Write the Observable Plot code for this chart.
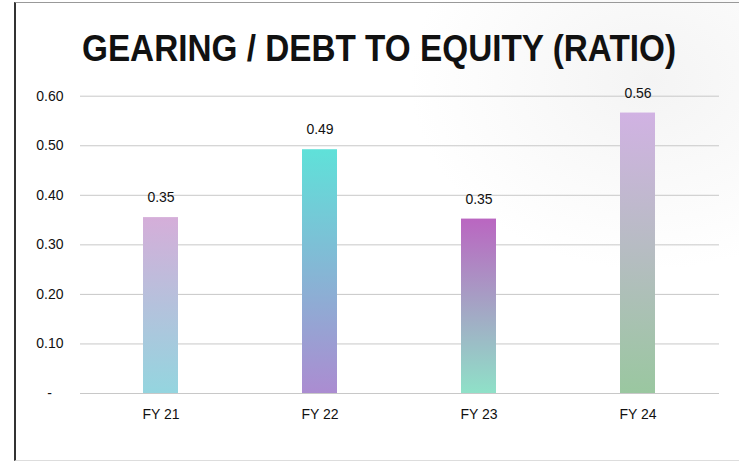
<!DOCTYPE html>
<html>
<head>
<meta charset="utf-8">
<script src="https://cdn.jsdelivr.net/npm/d3@7"></script>
<script src="https://cdn.jsdelivr.net/npm/@observablehq/plot@0.6"></script>
<style>
  html, body { margin: 0; padding: 0; background: #fff; }
  body { width: 739px; height: 463px; overflow: hidden; position: relative;
    font-family: "Liberation Sans", Arial, sans-serif; }
  #bg { position: absolute; left: 0; top: 0; width: 739px; height: 463px;
    background: radial-gradient(ellipse 240px 190px at 650px 80px, #f4f4f4 0%, #fafafa 55%, #ffffff 100%); }
  #frame { position: absolute; left: 14px; top: 2px; width: 723px; height: 457px;
    border-left: 2px solid #333; border-top: 1px solid #999; border-bottom: 1px solid #ddd; }
  #title { position: absolute; top: 29px; left: 82px; margin: 0; white-space: nowrap;
    font-family: "Liberation Sans", Arial, sans-serif; font-weight: bold; font-size: 36px;
    line-height: 40px; color: #111; transform-origin: 0 0; }
  #chart { position: absolute; left: 0; top: 80px; }
</style>
</head>
<body>
<div id="bg"></div>
<div id="frame"></div>
<h1 id="title">GEARING / DEBT TO EQUITY (RATIO)</h1>
<div id="chart"></div>
<script>
const categories = ["FY 21", "FY 22", "FY 23", "FY 24"];
const values = [0.355, 0.492, 0.352, 0.566];
const valueLabels = ["0.35", "0.49", "0.35", "0.56"];
const gradientTop = ["#d5aed9", "#5fe1d9", "#ba66c1", "#d1b2e3"];
const gradientBottom = ["#94d5df", "#ab8cd1", "#8fe1c8", "#9ac7a0"];
const yTicks = [0, 0.1, 0.2, 0.3, 0.4, 0.5, 0.6];
const yTickLabels = ["-", "0.10", "0.20", "0.30", "0.40", "0.50", "0.60"];

const data = categories.map((c, i) => ({
  cat: c, value: values[i], label: valueLabels[i], grad: `url(#grad${i})`
}));

// fit title width
const title = document.getElementById("title");
const targetW = 594;
const w = title.getBoundingClientRect().width;
title.style.transform = `scaleX(${targetW / w})`;

const plot = Plot.plot({
  width: 739,
  height: 383,
  marginLeft: 80,
  marginRight: 20,
  marginTop: 15.7,
  marginBottom: 70,
  style: { background: "transparent", fontFamily: "Liberation Sans, Arial, sans-serif", fontSize: "14px", color: "#111" },
  x: { domain: categories, paddingInner: 0.778, paddingOuter: 0.389, label: null },
  y: { domain: [0, 0.6], label: null },
  marks: [
    Plot.ruleY(yTicks, { stroke: "#c8c8c8", strokeWidth: 1 }),
    Plot.barY(data, { x: "cat", y: "value", fill: "grad" }),
    Plot.text(data, { x: "cat", y: "value", text: "label", dy: -20, fontSize: 14, fill: "#111" }),
    Plot.axisX({ tickSize: 0, tickPadding: 16, fontSize: 14, fill: "#111" }),
    Plot.axisY({ ticks: yTicks, tickSize: 0, tickPadding: 17,
      tickFormat: d => { const i = yTicks.indexOf(d); return i === 0 ? "-\u00a0\u00a0\u00a0" : yTickLabels[i]; },
      fontSize: 14, fill: "#111" })
  ]
});

const defs = d3.select(plot).insert("defs", ":first-child");
categories.forEach((c, i) => {
  const g = defs.append("linearGradient").attr("id", `grad${i}`)
    .attr("x1", 0).attr("y1", 0).attr("x2", 0).attr("y2", 1);
  g.append("stop").attr("offset", "0%").attr("stop-color", gradientTop[i]);
  g.append("stop").attr("offset", "100%").attr("stop-color", gradientBottom[i]);
});

document.getElementById("chart").appendChild(plot);
</script>
</body>
</html>
